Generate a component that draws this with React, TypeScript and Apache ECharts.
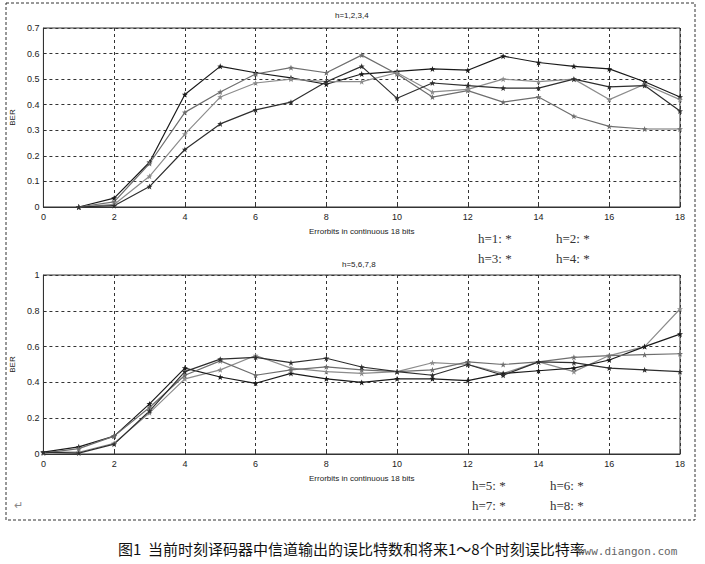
import React, { useEffect, useRef } from "react";
import * as echarts from "echarts";

const xTop = [1, 2, 3, 4, 5, 6, 7, 8, 9, 10, 11, 12, 13, 14, 15, 16, 17, 18];
const top1 = [0, 0.035, 0.175, 0.44, 0.55, 0.525, 0.505, 0.48, 0.52, 0.53, 0.54, 0.535, 0.59, 0.565, 0.55, 0.54, 0.49, 0.43];
const top2 = [0, 0.02, 0.17, 0.37, 0.45, 0.52, 0.545, 0.525, 0.594, 0.52, 0.43, 0.455, 0.41, 0.43, 0.355, 0.315, 0.305, 0.305];
const top3 = [0, 0.01, 0.12, 0.285, 0.43, 0.485, 0.5, 0.49, 0.49, 0.525, 0.45, 0.46, 0.5, 0.49, 0.5, 0.42, 0.48, 0.42];
const top4 = [0, 0.005, 0.08, 0.225, 0.325, 0.38, 0.41, 0.49, 0.55, 0.425, 0.485, 0.475, 0.465, 0.465, 0.5, 0.47, 0.475, 0.375];

const xBot = [0, 1, 2, 3, 4, 5, 6, 7, 8, 9, 10, 11, 12, 13, 14, 15, 16, 17, 18];
const bot1 = [0.01, 0.01, 0.06, 0.23, 0.42, 0.47, 0.55, 0.48, 0.46, 0.45, 0.46, 0.51, 0.5, 0.45, 0.515, 0.46, 0.55, 0.6, 0.81];
const bot2 = [0.01, 0.04, 0.1, 0.28, 0.48, 0.43, 0.395, 0.45, 0.42, 0.4, 0.42, 0.42, 0.41, 0.45, 0.465, 0.48, 0.525, 0.6, 0.67];
const bot3 = [0.005, 0.03, 0.1, 0.26, 0.44, 0.52, 0.44, 0.47, 0.487, 0.47, 0.46, 0.47, 0.515, 0.5, 0.515, 0.54, 0.55, 0.555, 0.56];
const bot4 = [0.01, 0.005, 0.055, 0.24, 0.46, 0.53, 0.54, 0.51, 0.535, 0.486, 0.46, 0.44, 0.5, 0.44, 0.515, 0.51, 0.48, 0.47, 0.46];

const topTitle = "h=1,2,3,4";
const botTitle = "h=5,6,7,8";
const xName = "Errorbits in continuous 18 bits";
const yName = "BER";
const topLegend = ["h=1: *", "h=2: *", "h=3: *", "h=4: *"];
const botLegend = ["h=5: *", "h=6: *", "h=7: *", "h=8: *"];
const caption = "图1  当前时刻译码器中信道输出的误比特数和将来1～8个时刻误比特率";
const watermark = "www.diangon.com";

const STAR =
  "path://M0,-10L2.4,-3.3L9.5,-3.1L3.8,1.2L5.9,8.1L0,4L-5.9,8.1L-3.8,1.2L-9.5,-3.1L-2.4,-3.3Z";

const colors = ["#1a1a1a", "#6e6e6e", "#8c8c8c", "#2e2e2e"];
const narrow = "'Liberation Sans Narrow', 'Liberation Sans', Arial, sans-serif";

export default function App() {
  const ref = useRef<HTMLDivElement>(null);
  useEffect(() => {
    if (!ref.current) return;
    const chart = echarts.init(ref.current, undefined, { renderer: "svg" });

    const mkX = (gi: number) => ({
      type: "value",
      gridIndex: gi,
      min: 0,
      max: 18,
      interval: 2,
      name: xName,
      nameLocation: "middle",
      nameGap: 20,
      nameTextStyle: { fontSize: 8, fontFamily: narrow, color: "#222" },
      axisLine: { show: true, lineStyle: { color: "#333", width: 1 } },
      axisTick: { show: true, inside: true, length: 3, lineStyle: { color: "#333" } },
      axisLabel: { fontSize: 9, fontFamily: narrow, color: "#222", margin: 5 },
      splitLine: { show: true, lineStyle: { color: "#333", type: [3, 3], width: 1 } },
    });
    const mkY = (gi: number, max: number, interval: number) => ({
      type: "value",
      gridIndex: gi,
      min: 0,
      max,
      interval,
      name: yName,
      nameLocation: "middle",
      nameGap: 25,
      nameRotate: 90,
      nameTextStyle: { fontSize: 8, fontFamily: narrow, color: "#222" },
      axisLine: { show: true, lineStyle: { color: "#333", width: 1 } },
      axisTick: { show: true, inside: true, length: 3, lineStyle: { color: "#333" } },
      axisLabel: { fontSize: 9, fontFamily: narrow, color: "#222", margin: 4 },
      splitLine: { show: true, lineStyle: { color: "#333", type: [3, 3], width: 1 } },
    });

    const mkSeries = (xs: number[], ys: number[], gi: number, ci: number) => ({
      type: "line",
      xAxisIndex: gi,
      yAxisIndex: gi,
      data: xs.map((x, i) => [x, ys[i]]),
      symbol: STAR,
      symbolSize: 6,
      showSymbol: true,
      lineStyle: { color: colors[ci], width: 1.2 },
      itemStyle: { color: colors[ci] },
    });

    const legendText = (txt: string, x: number, y: number) => ({
      type: "text",
      x,
      y,
      style: {
        text: txt,
        fontSize: 13,
        fontFamily: "'Liberation Serif', 'DejaVu Serif', serif",
        fill: "#333",
        textVerticalAlign: "middle",
      },
    });

    chart.setOption({
      animation: false,
      backgroundColor: "#fff",
      grid: [
        { left: 42, top: 28, width: 638, height: 179, show: true, borderColor: "#333", borderWidth: 1, backgroundColor: "transparent" },
        { left: 42, top: 275, width: 638, height: 179, show: true, borderColor: "#333", borderWidth: 1, backgroundColor: "transparent" },
      ],
      xAxis: [mkX(0), mkX(1)],
      yAxis: [mkY(0, 0.7, 0.1), mkY(1, 1, 0.2)],
      series: [
        mkSeries(xTop, top1, 0, 0),
        mkSeries(xTop, top2, 0, 1),
        mkSeries(xTop, top3, 0, 2),
        mkSeries(xTop, top4, 0, 3),
        mkSeries(xBot, bot1, 1, 2),
        mkSeries(xBot, bot2, 1, 0),
        mkSeries(xBot, bot3, 1, 1),
        mkSeries(xBot, bot4, 1, 3),
      ],
      graphic: [
        {
          type: "rect",
          shape: { x: 6, y: 3, width: 689, height: 517 },
          style: { fill: "none", stroke: "#333", lineWidth: 1, lineDash: [3, 2] },
        },
        {
          type: "text",
          x: 335,
          y: 15,
          style: { text: topTitle, fontSize: 8, fontFamily: narrow, fill: "#222", textVerticalAlign: "middle" },
        },
        {
          type: "text",
          x: 342,
          y: 264,
          style: { text: botTitle, fontSize: 8, fontFamily: narrow, fill: "#222", textVerticalAlign: "middle" },
        },
        legendText(topLegend[0], 478, 238),
        legendText(topLegend[1], 556, 238),
        legendText(topLegend[2], 478, 258),
        legendText(topLegend[3], 556, 258),
        legendText(botLegend[0], 472, 485),
        legendText(botLegend[1], 550, 485),
        legendText(botLegend[2], 472, 505),
        legendText(botLegend[3], 550, 505),
        {
          type: "text",
          x: 14,
          y: 505,
          style: { text: "↵", fontSize: 11, fill: "#888", textVerticalAlign: "middle" },
        },
        {
          type: "text",
          x: 118,
          y: 548,
          style: {
            text: caption,
            fontSize: 15,
            fontFamily: "'Noto Sans CJK SC', sans-serif",
            fill: "#111",
            textVerticalAlign: "middle",
          },
        },
        {
          type: "text",
          x: 578,
          y: 551,
          style: {
            text: watermark,
            fontSize: 11,
            fontFamily: "'DejaVu Sans Mono', 'Liberation Mono', monospace",
            fill: "#666",
            textVerticalAlign: "middle",
          },
        },
      ],
    });
    return () => chart.dispose();
  }, []);
  return (
    <div
      ref={ref}
      style={{ position: "absolute", left: 0, top: 0, width: 705, height: 564 }}
    />
  );
}
